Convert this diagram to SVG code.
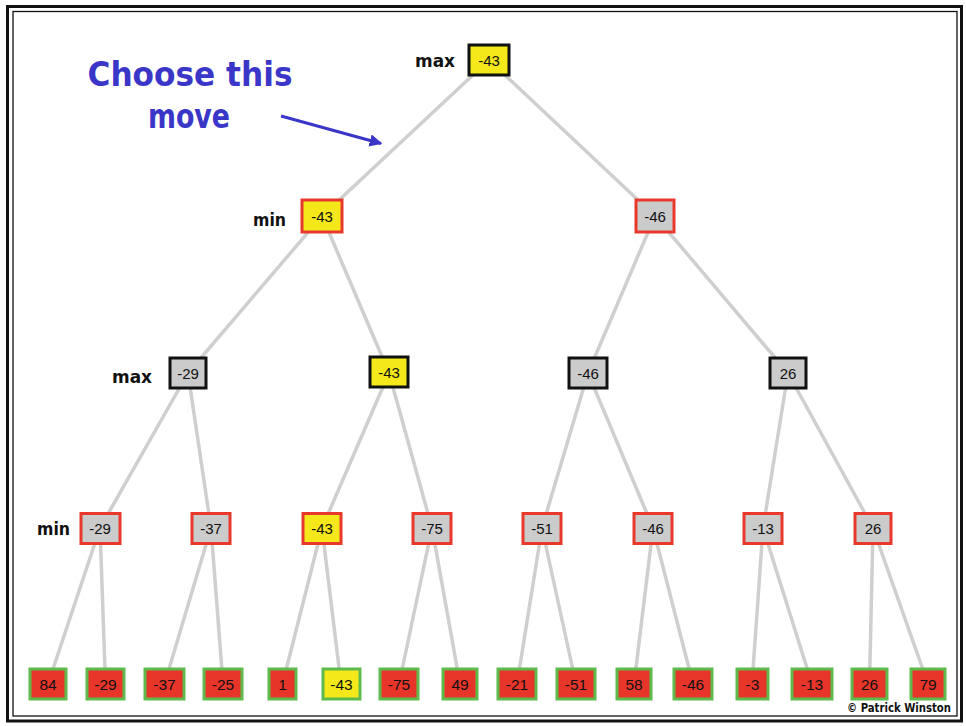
<svg xmlns="http://www.w3.org/2000/svg" width="966" height="726" viewBox="0 0 966 726">
  <defs>
    <marker id="arrowhead" viewBox="0 0 10 10" refX="9" refY="5" markerWidth="4.2" markerHeight="4.2" markerUnits="strokeWidth" orient="auto">
      <path d="M0,0 L10,5 L0,10 Z" fill="#3a36c8"/>
    </marker>
  </defs>
  <style>
    .edge { stroke: #cfcfcf; stroke-width: 3.5; fill: none; stroke-linecap: round; }
    .box-max { stroke: #111; stroke-width: 3; }
    .box-min { stroke: #e8392c; stroke-width: 3; }
    .box-leaf { fill: #e8352a; stroke: #5fba4c; stroke-width: 3; }
    .grey { fill: #cbcbcb; }
    .gold { fill: #f4e81a; }
    .val { font-family: "Liberation Sans", Arial, sans-serif; font-size: 15px; fill: #111; text-anchor: middle; }
    .leafval { font-family: "Liberation Sans", Arial, sans-serif; font-size: 15.5px; fill: #111; text-anchor: middle; }
    .lvl { font-family: "DejaVu Sans", "Liberation Sans", sans-serif; font-weight: bold; font-size: 17px; fill: #111; }
    .note { font-family: "DejaVu Sans", "Liberation Sans", sans-serif; font-weight: bold; font-size: 33px; fill: #3a36c8; text-anchor: middle; }
    .credit { font-family: "DejaVu Sans", "Liberation Sans", sans-serif; font-weight: bold; font-size: 11.5px; fill: #111; }
  </style>

  <rect width="966" height="726" fill="#ffffff"/>

  <!-- double frame -->
  <rect x="7.5" y="6.5" width="954" height="714.5" fill="none" stroke="#111" stroke-width="3"/>
  <rect x="13" y="11.5" width="944" height="704.5" fill="none" stroke="#111" stroke-width="1.3"/>

  <!-- tree edges -->
  <g id="connectors">
    <line class="edge" x1="489" y1="60" x2="322" y2="216"/>
    <line class="edge" x1="489" y1="60" x2="655" y2="216"/>

    <line class="edge" x1="322" y1="216" x2="188" y2="373"/>
    <line class="edge" x1="322" y1="216" x2="389" y2="373"/>
    <line class="edge" x1="655" y1="216" x2="588" y2="373"/>
    <line class="edge" x1="655" y1="216" x2="788" y2="373"/>

    <line class="edge" x1="188" y1="373" x2="100" y2="528"/>
    <line class="edge" x1="188" y1="373" x2="211" y2="528"/>
    <line class="edge" x1="389" y1="373" x2="322" y2="528"/>
    <line class="edge" x1="389" y1="373" x2="432" y2="528"/>
    <line class="edge" x1="588" y1="373" x2="542" y2="528"/>
    <line class="edge" x1="588" y1="373" x2="653" y2="528"/>
    <line class="edge" x1="788" y1="373" x2="763" y2="528"/>
    <line class="edge" x1="788" y1="373" x2="873" y2="528"/>

    <line class="edge" x1="100" y1="528" x2="48" y2="684"/>
    <line class="edge" x1="100" y1="528" x2="105.5" y2="684"/>
    <line class="edge" x1="211" y1="528" x2="164.5" y2="684"/>
    <line class="edge" x1="211" y1="528" x2="223" y2="684"/>
    <line class="edge" x1="322" y1="528" x2="282.5" y2="684"/>
    <line class="edge" x1="322" y1="528" x2="341" y2="684"/>
    <line class="edge" x1="432" y1="528" x2="399" y2="684"/>
    <line class="edge" x1="432" y1="528" x2="460" y2="684"/>
    <line class="edge" x1="542" y1="528" x2="517" y2="684"/>
    <line class="edge" x1="542" y1="528" x2="576" y2="684"/>
    <line class="edge" x1="653" y1="528" x2="634" y2="684"/>
    <line class="edge" x1="653" y1="528" x2="693" y2="684"/>
    <line class="edge" x1="763" y1="528" x2="752" y2="684"/>
    <line class="edge" x1="763" y1="528" x2="812" y2="684"/>
    <line class="edge" x1="873" y1="528" x2="869.5" y2="684"/>
    <line class="edge" x1="873" y1="528" x2="928" y2="684"/>
  </g>

  <!-- level labels -->
  <text class="lvl" x="415" y="67" textLength="40" lengthAdjust="spacingAndGlyphs">max</text>
  <text class="lvl" x="253" y="226" textLength="33" lengthAdjust="spacingAndGlyphs">min</text>
  <text class="lvl" x="112" y="383" textLength="40" lengthAdjust="spacingAndGlyphs">max</text>
  <text class="lvl" x="37" y="535" textLength="33" lengthAdjust="spacingAndGlyphs">min</text>

  <!-- annotation -->
  <text class="note" x="190" y="86" textLength="205" lengthAdjust="spacingAndGlyphs">Choose this</text>
  <text class="note" x="189" y="128" textLength="82" lengthAdjust="spacingAndGlyphs">move</text>
  <line x1="281" y1="116" x2="381" y2="143.5" stroke="#3a36c8" stroke-width="3" marker-end="url(#arrowhead)"/>

  <!-- root -->
  <g id="n-root">
    <rect class="box-max gold" x="469" y="45" width="40" height="30"/>
    <text class="val" x="489" y="65.5">-43</text>
  </g>

  <!-- level 1 (min) -->
  <g id="n-l1a">
    <rect class="box-min gold" x="302" y="200" width="40" height="32"/>
    <text class="val" x="322" y="221.5">-43</text>
  </g>
  <g id="n-l1b">
    <rect class="box-min grey" x="636" y="200" width="38" height="32"/>
    <text class="val" x="655" y="221.5">-46</text>
  </g>

  <!-- level 2 (max) -->
  <g id="n-l2a">
    <rect class="box-max grey" x="170" y="358" width="36" height="30"/>
    <text class="val" x="188" y="378.5">-29</text>
  </g>
  <g id="n-l2b">
    <rect class="box-max gold" x="370" y="357" width="38" height="30"/>
    <text class="val" x="389" y="377.5">-43</text>
  </g>
  <g id="n-l2c">
    <rect class="box-max grey" x="569" y="358" width="38" height="30"/>
    <text class="val" x="588" y="378.5">-46</text>
  </g>
  <g id="n-l2d">
    <rect class="box-max grey" x="770" y="358" width="36" height="30"/>
    <text class="val" x="788" y="378.5">26</text>
  </g>

  <!-- level 3 (min) -->
  <g id="n-l3a">
    <rect class="box-min grey" x="81" y="513.5" width="39" height="30"/>
    <text class="val" x="100" y="533.5">-29</text>
  </g>
  <g id="n-l3b">
    <rect class="box-min grey" x="192" y="513.5" width="38" height="30"/>
    <text class="val" x="211" y="533.5">-37</text>
  </g>
  <g id="n-l3c">
    <rect class="box-min gold" x="303" y="513.5" width="38" height="30"/>
    <text class="val" x="322" y="533.5">-43</text>
  </g>
  <g id="n-l3d">
    <rect class="box-min grey" x="413" y="513.5" width="38" height="30"/>
    <text class="val" x="432" y="533.5">-75</text>
  </g>
  <g id="n-l3e">
    <rect class="box-min grey" x="523" y="513.5" width="38" height="30"/>
    <text class="val" x="542" y="533.5">-51</text>
  </g>
  <g id="n-l3f">
    <rect class="box-min grey" x="634" y="513.5" width="38" height="30"/>
    <text class="val" x="653" y="533.5">-46</text>
  </g>
  <g id="n-l3g">
    <rect class="box-min grey" x="744" y="513.5" width="38" height="30"/>
    <text class="val" x="763" y="533.5">-13</text>
  </g>
  <g id="n-l3h">
    <rect class="box-min grey" x="855" y="513.5" width="36" height="30"/>
    <text class="val" x="873" y="533.5">26</text>
  </g>

  <!-- leaves -->
  <g id="leaf-1"><rect class="box-leaf" x="30" y="669" width="36" height="30"/><text class="leafval" x="48" y="689.5">84</text></g>
  <g id="leaf-2"><rect class="box-leaf" x="87" y="669" width="37" height="30"/><text class="leafval" x="105.5" y="689.5">-29</text></g>
  <g id="leaf-3"><rect class="box-leaf" x="145" y="669" width="39" height="30"/><text class="leafval" x="164.5" y="689.5">-37</text></g>
  <g id="leaf-4"><rect class="box-leaf" x="204" y="669" width="38" height="30"/><text class="leafval" x="223" y="689.5">-25</text></g>
  <g id="leaf-5"><rect class="box-leaf" x="269" y="669" width="27" height="30"/><text class="leafval" x="282.5" y="689.5">1</text></g>
  <g id="leaf-6"><rect class="box-leaf" x="323" y="669" width="37" height="30" style="fill:#f4e81a"/><text class="leafval" x="341.5" y="689.5">-43</text></g>
  <g id="leaf-7"><rect class="box-leaf" x="380" y="669" width="38" height="30"/><text class="leafval" x="399" y="689.5">-75</text></g>
  <g id="leaf-8"><rect class="box-leaf" x="443" y="669" width="34" height="30"/><text class="leafval" x="460" y="689.5">49</text></g>
  <g id="leaf-9"><rect class="box-leaf" x="498" y="669" width="38" height="30"/><text class="leafval" x="517" y="689.5">-21</text></g>
  <g id="leaf-10"><rect class="box-leaf" x="557" y="669" width="38" height="30"/><text class="leafval" x="576" y="689.5">-51</text></g>
  <g id="leaf-11"><rect class="box-leaf" x="617" y="669" width="34" height="30"/><text class="leafval" x="634" y="689.5">58</text></g>
  <g id="leaf-12"><rect class="box-leaf" x="674" y="669" width="38" height="30"/><text class="leafval" x="693" y="689.5">-46</text></g>
  <g id="leaf-13"><rect class="box-leaf" x="737" y="669" width="31" height="30"/><text class="leafval" x="752.5" y="689.5">-3</text></g>
  <g id="leaf-14"><rect class="box-leaf" x="792" y="669" width="40" height="30"/><text class="leafval" x="812" y="689.5">-13</text></g>
  <g id="leaf-15"><rect class="box-leaf" x="852" y="669" width="35" height="30"/><text class="leafval" x="869.5" y="689.5">26</text></g>
  <g id="leaf-16"><rect class="box-leaf" x="911" y="669" width="34" height="30"/><text class="leafval" x="928" y="689.5">79</text></g>

  <text class="credit" x="847" y="712" textLength="104" lengthAdjust="spacingAndGlyphs">© Patrick Winston</text>
</svg>
